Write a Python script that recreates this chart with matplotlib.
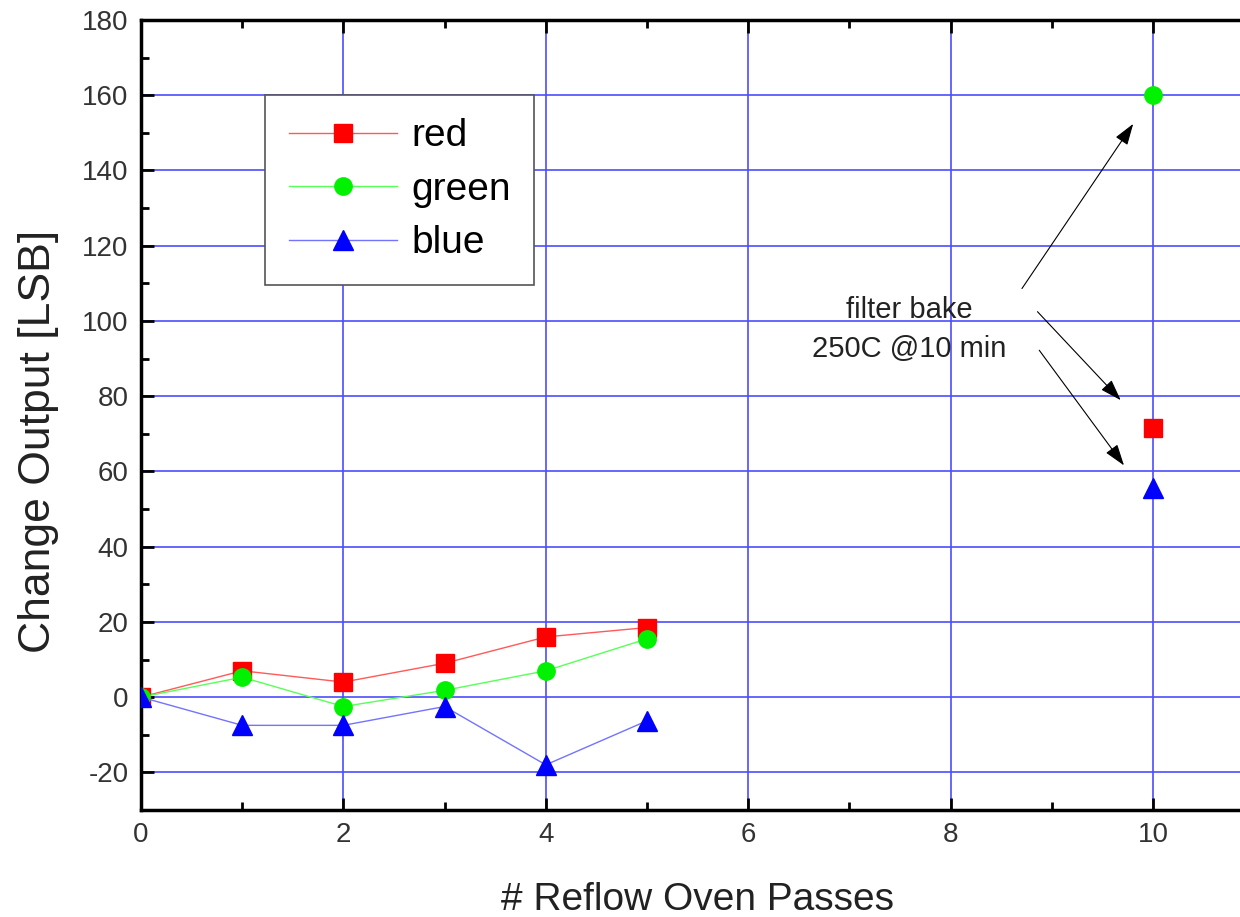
import matplotlib
matplotlib.use("Agg")
import matplotlib.pyplot as plt
from matplotlib.ticker import MultipleLocator

plt.rcParams['font.family'] = ['Liberation Sans', 'DejaVu Sans']
plt.rcParams['axes.unicode_minus'] = False

passes = [0, 1, 2, 3, 4, 5]
red_vals = [0, 7, 4, 9, 16, 18.5]
green_vals = [0, 5.3, -2.5, 1.8, 7, 15.5]
blue_vals = [0, -7.5, -7.5, -2.5, -18, -6.3]

bake_x = [10]
red_bake = [71.5]
green_bake = [160]
blue_bake = [55.5]

fig = plt.figure(figsize=(12.4, 9.17), dpi=100)
ax = fig.add_axes([0.1137, 0.1167, 0.8863, 0.8615])

ax.set_xlim(0, 10.86)
ax.set_ylim(-30, 180)

grid_c = (0.3, 0.3, 1.0)
ax.xaxis.set_major_locator(MultipleLocator(2))
ax.xaxis.set_minor_locator(MultipleLocator(1))
ax.yaxis.set_major_locator(MultipleLocator(20))
ax.yaxis.set_minor_locator(MultipleLocator(10))
ax.grid(True, which='major', color=grid_c, linewidth=1.2, zorder=0)
ax.set_axisbelow(True)

ax.tick_params(which='both', direction='in', top=True, right=False, width=2)
ax.tick_params(which='major', length=9, labelsize=20, colors='black', labelcolor='#333333')
ax.tick_params(axis='x', which='major', pad=9)
ax.tick_params(axis='y', which='major', pad=9)
ax.tick_params(which='minor', length=6)
for s in ['left', 'bottom', 'top']:
    ax.spines[s].set_linewidth(2.5)
ax.spines['right'].set_visible(False)

ms_sq, ms_c, ms_t = 12.5, 12.5, 15
ax.plot(passes, red_vals, color=(1, 0.35, 0.35), lw=1, marker='s', ms=ms_sq,
        mfc='red', mec='red', label='red', zorder=3)
ax.plot(passes, green_vals, color=(0.35, 1, 0.35), lw=1, marker='o', ms=ms_c,
        mfc=(0, 0.95, 0), mec=(0, 0.95, 0), label='green', zorder=3)
ax.plot(passes, blue_vals, color=(0.45, 0.45, 1), lw=1, marker='^', ms=ms_t,
        mfc='blue', mec='blue', label='blue', zorder=3)

ax.plot(bake_x, red_bake, ls='none', marker='s', ms=ms_sq, mfc='red', mec='red', zorder=3)
ax.plot(bake_x, green_bake, ls='none', marker='o', ms=ms_c, mfc=(0, 0.95, 0), mec=(0, 0.95, 0), zorder=3)
ax.plot(bake_x, blue_bake, ls='none', marker='^', ms=ms_t, mfc='blue', mec='blue', zorder=3)

leg = ax.legend(loc='upper left', bbox_to_anchor=(0.113, 0.905), fontsize=28,
                frameon=True, fancybox=False, edgecolor='#555555', framealpha=1,
                borderpad=0.6, handlelength=2.8, labelspacing=0.45, handletextpad=0.35,
                borderaxespad=0)
leg.get_frame().set_linewidth(1.2)

ax.text(7.59, 103, 'filter bake', fontsize=21, ha='center', va='center', color='#222222')
ax.text(7.59, 92.5, '250C @10 min', fontsize=21, ha='center', va='center', color='#222222')

arrow_kw = dict(arrowstyle='-|>,head_length=0.6,head_width=0.2', color='black', lw=0.8,
                mutation_scale=22)
ax.annotate('', xy=(9.82, 153), xytext=(8.69, 108), arrowprops=arrow_kw)
ax.annotate('', xy=(9.70, 78.4), xytext=(8.84, 103), arrowprops=arrow_kw)
ax.annotate('', xy=(9.73, 61), xytext=(8.86, 92.8), arrowprops=arrow_kw)

ax.set_xlabel('# Reflow Oven Passes', fontsize=28, color='#222222')
ax.set_ylabel('Change Output [LSB]', fontsize=32, color='#222222')
ax.xaxis.set_label_coords(0.506, -0.091)
ax.yaxis.set_label_coords(-0.075, 0.467)

fig.savefig('out.png', dpi=100)
